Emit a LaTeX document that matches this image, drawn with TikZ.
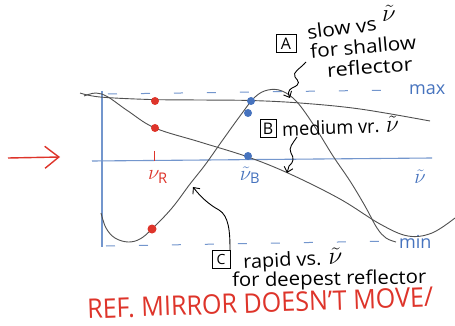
\documentclass[tikz,border=0pt]{standalone}
\usepackage{fontspec}
\setmainfont{Open Sans}
\usetikzlibrary{arrows.meta}
\definecolor{penred}{RGB}{222,52,42}
\definecolor{penblue}{RGB}{70,115,190}
\definecolor{axisblue}{RGB}{115,150,205}
\definecolor{curvegray}{RGB}{80,80,80}
\newcommand{\bignu}{{\fontsize{23}{23}\selectfont$\tilde{\nu}$}}
\begin{document}
\begin{tikzpicture}[x=1pt,y=-1pt,
  curve/.style={curvegray, line width=0.9pt},
  axisline/.style={axisblue, line width=1.1pt},
  dashline/.style={axisblue, line width=1pt, dash pattern=on 9pt off 24pt},
  pointer/.style={black, line width=0.9pt, -{Straight Barb[length=5pt,width=9pt]}},
  hand/.style={font=\fontsize{19}{20}\selectfont, inner sep=0pt, anchor=west},
  letterbox/.style={draw, line width=1pt, font=\fontsize{16}{16}\selectfont, minimum width=20pt, minimum height=18pt, inner sep=0.5pt},
  reddot/.style={circle, fill=penred, inner sep=0pt, minimum size=8pt},
  bluedot/.style={circle, fill=penblue, inner sep=0pt, minimum size=8pt},
  mathlabel/.style={font=\fontsize{21}{21}\selectfont, inner sep=0pt},
]
\useasboundingbox[fill=white] (0,0) rectangle (455,326);

% axes
\coordinate (vtop) at (102,91);
\coordinate (vbot) at (102,247);
\draw[axisline] (vtop) -- (vbot);
\coordinate (hl) at (92,161);
\coordinate (hr) at (432,158);
\draw[axisline] (hl) -- (hr);
\coordinate (maxl) at (108,94);
\coordinate (maxr) at (400,90);
\draw[dashline] (maxl) -- (maxr);
\coordinate (minl) at (106,246);
\coordinate (minr) at (396,241);
\draw[dashline] (minl) -- (minr);
\node[penblue, inner sep=0pt, font=\fontsize{18}{18}\selectfont, anchor=west] (maxlab) at (409,90) {max};
\node[penblue, inner sep=0pt, font=\fontsize{18}{18}\selectfont, anchor=west] (minlab) at (399,242) {min};

% red arrow
\coordinate (arrS) at (8,158);
\coordinate (arrE) at (60,157);
\draw[penred, line width=1.4pt, -{Straight Barb[length=14pt,width=22pt]}] (arrS) -- (arrE);

% curves
\draw[curve] plot[smooth, tension=0.6] coordinates {(80,93) (100,97) (150,99.5) (200,100) (250,100.5) (300,103) (360,109) (430,121)};
\draw[curve] plot[smooth, tension=0.6] coordinates {(84,96) (96,93) (108,97) (128,111) (155,128) (200,142) (248,157) (290,174) (340,199) (380,224) (408,236) (432,233) (455,218)};
\draw[curve] plot[smooth, tension=0.6] coordinates {(101,213) (106,228) (115,238) (128,242) (140,239) (152,229) (172,208) (190,184) (205,165) (222,141) (240,116) (255,97) (268,90) (282,91) (297,102) (315,127) (333,156) (350,181) (365,206) (377,228) (386,238) (396,242)};

% dots
\node[reddot] (r1) at (155,101) {};
\node[reddot] (r2) at (155,128) {};
\node[reddot, minimum width=7pt, minimum height=9pt] (r3) at (152,229) {};
\node[bluedot] (b1) at (251,101) {};
\node[bluedot] (b2) at (248,113) {};
\node[bluedot] (b3) at (248,156) {};

% axis labels
\coordinate (tickT) at (154,151);
\coordinate (tickB) at (154,161);
\draw[penred, line width=1pt] (tickT) -- (tickB);
\node[penred, mathlabel] (nuR) at (158,177) {$\nu_{\mathrm{R}}$};
\node[penblue, mathlabel] (nuB) at (250,175) {$\tilde{\nu}_{\mathrm{B}}$};
\node[penblue, mathlabel] (nu) at (420,177) {$\tilde{\nu}$};

% A annotation
\node[letterbox] (boxA) at (286,44) {A};
\node[hand, rotate=7, xscale=1.1] (tA1) at (307,32) {slow vs};
\node[mathlabel, font=\fontsize{23}{23}\selectfont] (tA1n) at (389,13) {$\tilde{\nu}$};
\node[hand, rotate=5, xscale=1.09] (tA2) at (310,51) {for shallow};
\node[hand, rotate=4, xscale=1.14] (tA3) at (327,70) {reflector};
\coordinate (Astart) at (306,62);
\coordinate (Atip) at (290,98);
\draw[pointer] (Astart) .. controls (300,69) and (292,72) .. (295,77) .. controls (298,81) and (302,84) .. (292,88) .. controls (288,90) and (288,94) .. (Atip);

% B annotation
\node[letterbox, minimum width=16pt] (boxB) at (268,129) {B};
\node[hand, rotate=2, xscale=0.96] (tB) at (282,128) {medium vr. \bignu};
\coordinate (Bstart) at (297,137);
\coordinate (Btip) at (287,173);
\draw[pointer] (Bstart) .. controls (293,143) and (288,148) .. (291,153) .. controls (294,158) and (294,162) .. (289,166) -- (Btip);

% C annotation
\node[letterbox, minimum width=18pt, font=\fontsize{14}{14}\selectfont] (boxC) at (221,259) {C};
\node[hand, rotate=3, xscale=1.05] (tC1) at (243,263) {rapid vs. \bignu};
\node[hand, rotate=1, xscale=1.07] (tC2) at (232,282) {for deepest reflector};
\coordinate (Cstart) at (230,250);
\coordinate (Ctip) at (193,187);
\draw[pointer] (Cstart) .. controls (230,232) and (229,216) .. (219,210) .. controls (208,204) and (200,196) .. (Ctip);

% bottom note
\node[penred, font=\fontsize{27}{27}\selectfont, inner sep=0pt, anchor=west, rotate=2, xscale=0.93] (note) at (87,309) {REF. MIRROR DOESN'T MOVE/};
\end{tikzpicture}
\end{document}
